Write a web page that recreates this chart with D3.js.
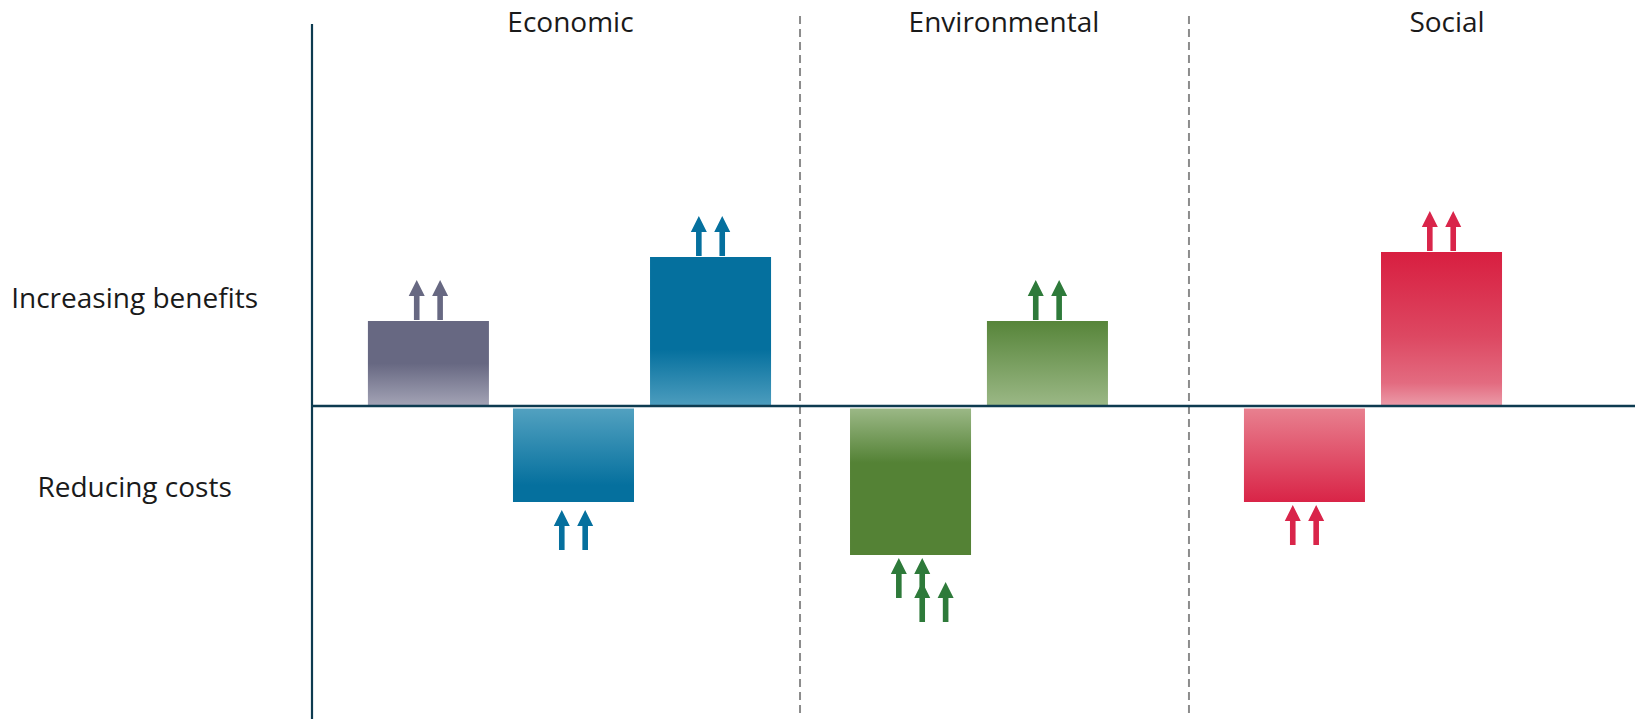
<!DOCTYPE html>
<html>
	<head>
		<title>Benefits and costs</title>

		<!--libs-->
		<script src="https://d3js.org/d3.v7.min.js"></script>

		<!--css-->
		<style>
			body {
				margin: 0;
				background: #fff;
			}

			text {
				font-family: "Open Sans", sans-serif;
				font-size: 28px;
				fill: #1a1a1a;
			}
		</style>
	</head>
	<body>
		<div class="chart"></div>

		<script>
			// data
			var categories = ["Economic", "Environmental", "Social"];
			var rowLabels = ["Increasing benefits", "Reducing costs"];

			var barCategory = ["Economic", "Economic", "Economic", "Environmental", "Environmental", "Social", "Social"];
			var barValue = [8.5, -9.6, 14.9, -14.9, 8.5, -9.6, 15.4];
			var barArrows = [2, 2, 2, 4, 2, 2, 2];
			var barPalette = ["slate", "blue", "blue", "green", "green", "red", "red"];

			// layout (percent along the horizontal axis)
			var barSlot = [8.86, 19.9, 30.33, 45.55, 55.97, 75.53, 85.96];
			var arrowGap = [1, 8, 1, 3, 1, 3, 1];
			var catLabelSlot = [19.67, 52.66, 86.38];
			var dividerSlot = [37.14, 66.74];
			var barWidth = 9.21;

			var width = 1635,
				height = 719;

			var x = d3.scaleLinear().domain([0, 100]).range([312, 1626]);
			var y = d3.scaleLinear().domain([-31.3, 38.2]).range([719, 24]);

			var palettes = {
				slate: { arrow: "#676882", pos: [[0, "#676882"], [0.5, "#676882"], [1, "#a4a4b6"]] },
				blue: { arrow: "#05709e", pos: [[0, "#05709e"], [0.62, "#05709e"], [1, "#4d9dbe"]],
					neg: [[0, "#52a1c0"], [0.82, "#05709e"], [1, "#05709e"]] },
				green: { arrow: "#2e7a3a", pos: [[0, "#57853a"], [1, "#9bb886"]],
					neg: [[0, "#9bb886"], [0.37, "#548235"], [1, "#548235"]] },
				red: { arrow: "#d9254a", pos: [[0, "#d81e40"], [0.55, "#dd4862"], [0.85, "#e36b80"], [1, "#eb9ca9"]],
					neg: [[0, "#e8808f"], [1, "#d92447"]] }
			};

			var svg = d3.select(".chart")
				.append("svg")
				.attr("width", width)
				.attr("height", height);

			var defs = svg.append("defs");
			Object.keys(palettes).forEach(function(k) {
				["pos", "neg"].forEach(function(s) {
					if (!palettes[k][s]) return;
					var g = defs.append("linearGradient")
						.attr("id", "grad-" + k + "-" + s)
						.attr("x1", 0).attr("y1", 0).attr("x2", 0).attr("y2", 1);
					palettes[k][s].forEach(function(st) {
						g.append("stop").attr("offset", st[0]).attr("stop-color", st[1]);
					});
				});
			});

			var bars = barValue.map(function(v, i) {
				return { cat: barCategory[i], value: v, arrows: barArrows[i], pal: barPalette[i], slot: barSlot[i], gap: arrowGap[i] };
			});

			// dividers between categories
			svg.selectAll(".divider")
				.data(dividerSlot)
				.enter().append("line")
				.attr("class", "divider")
				.attr("x1", function(d) { return x(d); })
				.attr("x2", function(d) { return x(d); })
				.attr("y1", 16)
				.attr("y2", 713)
				.attr("stroke", "#8c8c8c")
				.attr("stroke-width", 2)
				.attr("stroke-dasharray", "8,5");

			var bw = x(barWidth) - x(0);
			var gap = 2.5;

			svg.selectAll(".bar")
				.data(bars)
				.enter().append("rect")
				.attr("class", "bar")
				.attr("x", function(d) { return x(d.slot) - bw / 2; })
				.attr("width", bw)
				.attr("y", function(d) { return d.value > 0 ? y(d.value) : y(0) + gap; })
				.attr("height", function(d) { return d.value > 0 ? y(0) - y(d.value) : y(d.value) - y(0) - gap; })
				.attr("fill", function(d) { return "url(#grad-" + d.pal + "-" + (d.value > 0 ? "pos" : "neg") + ")"; });

			// up arrows on each bar
			var arrowLen = 40, headLen = 16, headW = 8, shaftW = 2.8, spacing = 23.4;
			function arrowPath(cx, tip) {
				return "M" + cx + "," + tip +
					"L" + (cx + headW) + "," + (tip + headLen) +
					"L" + (cx + shaftW) + "," + (tip + headLen) +
					"L" + (cx + shaftW) + "," + (tip + arrowLen) +
					"L" + (cx - shaftW) + "," + (tip + arrowLen) +
					"L" + (cx - shaftW) + "," + (tip + headLen) +
					"L" + (cx - headW) + "," + (tip + headLen) + "Z";
			}

			var arrows = [];
			bars.forEach(function(d) {
				var cx = x(d.slot);
				var tip = d.value > 0 ? y(d.value) - d.gap - arrowLen : y(d.value) + d.gap;
				for (var i = 0; i < d.arrows; i++) {
					var pair = Math.floor(i / 2);
					arrows.push({
						cx: cx - spacing / 2 + (i % 2) * spacing + pair * spacing,
						tip: tip + pair * 24,
						color: palettes[d.pal].arrow
					});
				}
			});

			svg.selectAll(".arrow")
				.data(arrows)
				.enter().append("path")
				.attr("class", "arrow")
				.attr("d", function(d) { return arrowPath(d.cx, d.tip); })
				.attr("fill", function(d) { return d.color; });

			// axes
			svg.append("line")
				.attr("x1", x(0)).attr("x2", x(0))
				.attr("y1", y.range()[1]).attr("y2", y.range()[0])
				.attr("stroke", "#0d3b50")
				.attr("stroke-width", 2.2);

			svg.append("line")
				.attr("x1", x(0)).attr("x2", width)
				.attr("y1", y(0)).attr("y2", y(0))
				.attr("stroke", "#0d3b50")
				.attr("stroke-width", 2.5);

			// labels
			svg.selectAll(".cat")
				.data(categories)
				.enter().append("text")
				.attr("class", "cat")
				.attr("x", function(d, i) { return x(catLabelSlot[i]); })
				.attr("y", 32)
				.attr("text-anchor", "middle")
				.text(function(d) { return d; });

			svg.selectAll(".row")
				.data(rowLabels)
				.enter().append("text")
				.attr("class", "row")
				.attr("x", 134.6)
				.attr("y", function(d, i) { return i === 0 ? y(9.8) : y(-9.1); })
				.attr("text-anchor", "middle")
				.text(function(d) { return d; });
		</script>
	</body>
</html>
